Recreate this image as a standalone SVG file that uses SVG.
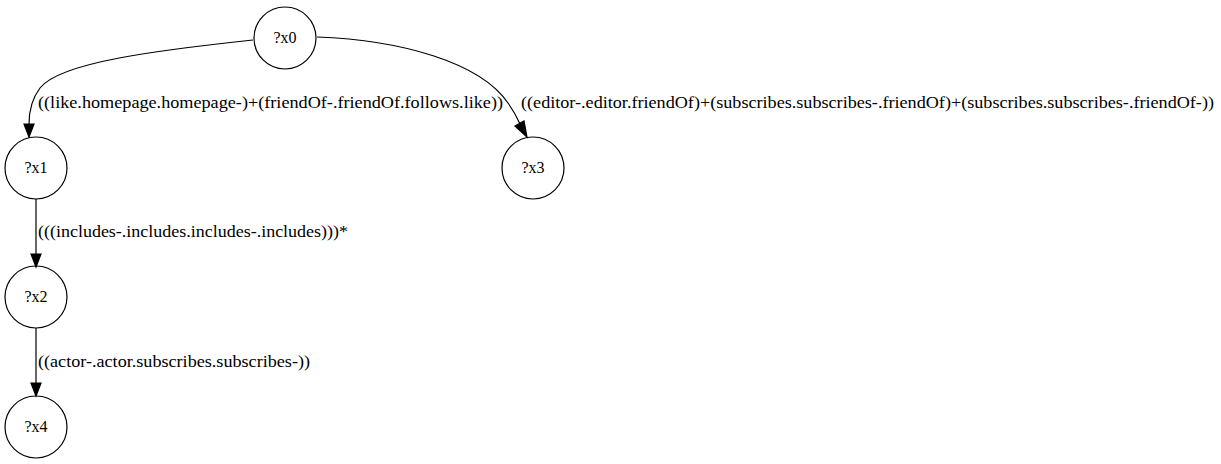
<svg xmlns="http://www.w3.org/2000/svg" width="1221" height="464" viewBox="0 0 1221 464">
<rect width="1221" height="464" fill="#fff"/>
<g id="edges" fill="none" stroke="#000" stroke-width="1.2">
<path id="e_x0_x1" d="M253,40 C160,50 60,62 40,88 C31,100 29,112 29,124"/>
<polygon points="24,124 34,124 29,137" fill="#000"/>
<path id="e_x0_x3" d="M317,37 C400,40 480,62 508,103 C513,110 517,117 520,124"/>
<polygon points="515,126 524,121 527,137" fill="#000"/>
<path id="e_x1_x2" d="M36,199 L36,254"/>
<polygon points="31,254 41,254 36,267" fill="#000"/>
<path id="e_x2_x4" d="M36,328 L36,383"/>
<polygon points="31,383 41,383 36,396" fill="#000"/>
</g>
<g id="edge-labels" font-family="Liberation Serif, Times New Roman, serif" font-size="16" fill="#000">
<text x="38" y="108" textLength="465" lengthAdjust="spacingAndGlyphs">((like.homepage.homepage-)+(friendOf-.friendOf.follows.like))</text>
<text x="521" y="108" textLength="693" lengthAdjust="spacingAndGlyphs">((editor-.editor.friendOf)+(subscribes.subscribes-.friendOf)+(subscribes.subscribes-.friendOf-))</text>
<text x="38" y="237" textLength="310" lengthAdjust="spacingAndGlyphs">(((includes-.includes.includes-.includes)))*</text>
<text x="38" y="367" textLength="272" lengthAdjust="spacingAndGlyphs">((actor-.actor.subscribes.subscribes-))</text>
</g>
<g font-family="Liberation Serif, Times New Roman, serif" font-size="16" text-anchor="middle">
<g id="x0"><circle cx="285" cy="38" r="31" fill="none" stroke="#000" stroke-width="1.2"/><text x="285" y="43">?x0</text></g>
<g id="x1"><circle cx="36" cy="168" r="31" fill="none" stroke="#000" stroke-width="1.2"/><text x="36" y="173">?x1</text></g>
<g id="x3"><circle cx="533" cy="168" r="31" fill="none" stroke="#000" stroke-width="1.2"/><text x="533" y="173">?x3</text></g>
<g id="x2"><circle cx="36" cy="297" r="31" fill="none" stroke="#000" stroke-width="1.2"/><text x="36" y="302">?x2</text></g>
<g id="x4"><circle cx="36" cy="427" r="31" fill="none" stroke="#000" stroke-width="1.2"/><text x="36" y="432">?x4</text></g>
</g>
</svg>
